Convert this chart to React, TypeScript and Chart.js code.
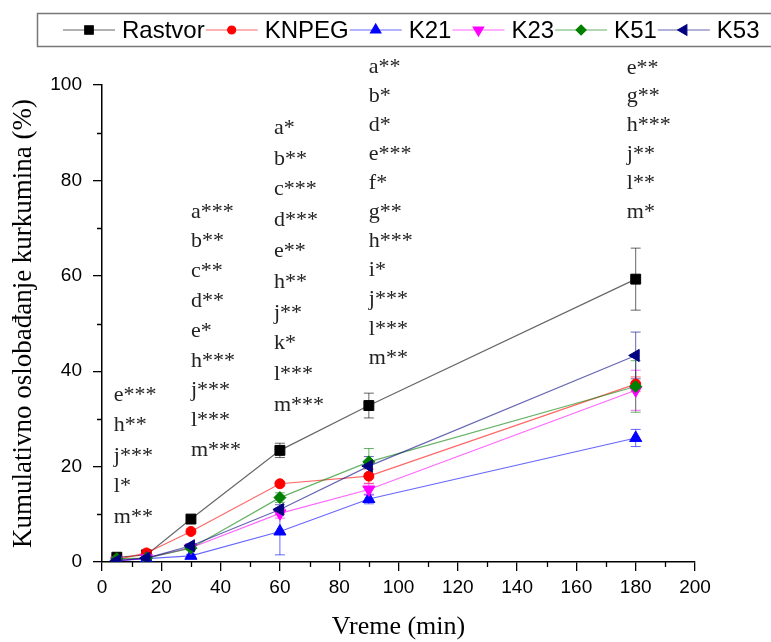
import React, { useEffect, useRef } from 'react';
import { Chart, registerables } from 'chart.js';
import { drawPoint } from 'chart.js/helpers';

Chart.register(...registerables);

// ---- data ----
const times = [5, 15, 30, 60, 90, 180];
const seriesNames = ['Rastvor', 'KNPEG', 'K21', 'K23', 'K51', 'K53'];

const rastvor = [1.0, 1.5, 9.0, 23.4, 32.8, 59.3];
const rastvorErr = [0.3, 0.3, 0.6, 1.5, 2.6, 6.5];
const knpeg = [0.5, 1.9, 6.4, 16.4, 18.0, 37.3];
const knpegErr = [0.2, 0.3, 0.5, 0.5, 1.5, 1.5];
const k21 = [0.3, 0.7, 1.3, 6.4, 13.2, 26.0];
const k21Err = [0.1, 0.2, 0.3, 4.9, 1.0, 1.8];
const k23 = [0.3, 0.8, 3.0, 10.2, 15.2, 36.0];
const k23Err = [0.1, 0.2, 0.4, 1.0, 1.2, 4.2];
const k51 = [0.7, 0.8, 2.9, 13.5, 21.0, 36.8];
const k51Err = [0.1, 0.2, 0.4, 1.0, 2.8, 5.4];
const k53 = [0.3, 0.8, 3.4, 11.0, 20.1, 43.3];
const k53Err = [0.1, 0.2, 0.4, 1.0, 2.0, 4.9];

const seriesValues = [rastvor, knpeg, k21, k23, k51, k53];
const seriesErrors = [rastvorErr, knpegErr, k21Err, k23Err, k51Err, k53Err];

// significance annotations at each time point
const annot5 = ['e***', 'h**', 'j***', 'l*', 'm**'];
const annot30 = ['a***', 'b**', 'c**', 'd**', 'e*', 'h***', 'j***', 'l***', 'm***'];
const annot60 = ['a*', 'b**', 'c***', 'd***', 'e**', 'h**', 'j**', 'k*', 'l***', 'm***'];
const annot90 = ['a**', 'b*', 'd*', 'e***', 'f*', 'g**', 'h***', 'i*', 'j***', 'l***', 'm**'];
const annot180 = ['e**', 'g**', 'h***', 'j**', 'l**', 'm*'];
const annotGroups = [annot5, annot30, annot60, annot90, annot180];

// ---- style / layout ----
const markerColors = ['#000000', '#ff0000', '#0000ff', '#ff00ff', '#008000', '#000080'];
const lineColors = ['rgba(0,0,0,0.6)', 'rgba(255,0,0,0.6)', 'rgba(0,0,255,0.6)', 'rgba(255,0,255,0.6)', 'rgba(0,128,0,0.6)', 'rgba(0,0,128,0.6)'];
const pointStyles = ['rect', 'circle', 'triangle', 'triangle', 'rectRot', 'triangle'];
const pointRotations = [0, 0, 0, 180, 0, 270];
const pointRadii = [7, 5, 7, 7, 6, 7];

const annotXData = [4, 30, 58, 90, 177];
const annotTopData = [35.0, 73.4, 91.0, 103.8, 103.6];
const annotSpacing = [30.5, 29.8, 30.8, 29.1, 28.8];

const SANS = '"Liberation Sans", Arial, sans-serif';
const SERIF = '"Liberation Serif", "Times New Roman", serif';

const errorBarPlugin = {
  id: 'errorBars',
  beforeDatasetsDraw(chart: any) {
    const { ctx } = chart;
    const xs = chart.scales.x;
    const ys = chart.scales.y;
    ctx.save();
    ctx.lineWidth = 1;
    seriesValues.forEach((vals, i) => {
      ctx.strokeStyle = lineColors[i];
      vals.forEach((v, j) => {
        const e = seriesErrors[i][j];
        const x = xs.getPixelForValue(times[j]);
        const yTop = ys.getPixelForValue(v + e);
        const yBot = ys.getPixelForValue(Math.max(0, v - e));
        ctx.beginPath();
        ctx.moveTo(x, yTop);
        ctx.lineTo(x, yBot);
        ctx.moveTo(x - 5, yTop);
        ctx.lineTo(x + 5, yTop);
        ctx.moveTo(x - 5, yBot);
        ctx.lineTo(x + 5, yBot);
        ctx.stroke();
      });
    });
    ctx.restore();
  },
};

const minorTickPlugin = {
  id: 'minorTicks',
  afterDraw(chart: any) {
    const { ctx, chartArea } = chart;
    const xs = chart.scales.x;
    const ys = chart.scales.y;
    ctx.save();
    ctx.strokeStyle = '#000';
    ctx.lineWidth = 1.3;
    ctx.beginPath();
    for (let v = 10; v < 200; v += 20) {
      const x = Math.round(xs.getPixelForValue(v)) + 0.5;
      ctx.moveTo(x, chartArea.bottom);
      ctx.lineTo(x, chartArea.bottom + 5);
    }
    for (let v = 10; v < 100; v += 20) {
      const y = Math.round(ys.getPixelForValue(v)) + 0.5;
      ctx.moveTo(chartArea.left, y);
      ctx.lineTo(chartArea.left - 5, y);
    }
    ctx.stroke();
    ctx.restore();
  },
};

const annotationPlugin = {
  id: 'annotations',
  afterDraw(chart: any) {
    const { ctx } = chart;
    const xs = chart.scales.x;
    const ys = chart.scales.y;
    ctx.save();
    ctx.font = `22px ${SERIF}`;
    ctx.fillStyle = '#222';
    ctx.textAlign = 'left';
    ctx.textBaseline = 'middle';
    annotGroups.forEach((lines, g) => {
      const x = xs.getPixelForValue(annotXData[g]);
      const y0 = ys.getPixelForValue(annotTopData[g]);
      lines.forEach((t, k) => {
        ctx.fillText(t, x, y0 + k * annotSpacing[g]);
      });
    });
    ctx.restore();
  },
};

const legendPlugin = {
  id: 'customLegend',
  afterDraw(chart: any) {
    const { ctx } = chart;
    ctx.save();
    ctx.strokeStyle = '#777';
    ctx.lineWidth = 1.5;
    ctx.strokeRect(37.5, 13.5, 800, 33);
    ctx.font = `24px ${SANS}`;
    ctx.textBaseline = 'middle';
    ctx.textAlign = 'left';
    const yc = 30;
    let x = 63;
    seriesNames.forEach((name, i) => {
      ctx.strokeStyle = lineColors[i];
      ctx.lineWidth = 1.2;
      ctx.beginPath();
      ctx.moveTo(x, yc);
      ctx.lineTo(x + 52, yc);
      ctx.stroke();
      ctx.fillStyle = markerColors[i];
      ctx.strokeStyle = markerColors[i];
      drawPoint(ctx, { pointStyle: pointStyles[i], rotation: pointRotations[i], radius: pointRadii[i] - 1, borderWidth: 1 } as any, x + 26, yc);
      ctx.fillStyle = '#000';
      ctx.fillText(name, x + 59, yc + 1);
      x = x + 59 + ctx.measureText(name).width + 1;
    });
    ctx.restore();
  },
};

export default function App() {
  const ref = useRef<HTMLCanvasElement>(null);
  useEffect(() => {
    document.body.style.margin = '0';
    const canvas = ref.current!;
    const chart = new Chart(canvas, {
      type: 'line',
      data: {
        datasets: seriesValues.map((vals, i) => ({
          label: seriesNames[i],
          data: times.map((t, j) => ({ x: t, y: vals[j] })),
          borderColor: lineColors[i],
          backgroundColor: markerColors[i],
          pointBackgroundColor: markerColors[i],
          pointBorderColor: markerColors[i],
          pointBorderWidth: 1,
          pointStyle: pointStyles[i] as any,
          pointRotation: pointRotations[i],
          pointRadius: pointRadii[i],
          borderWidth: 1.2,
          tension: 0,
          fill: false,
          order: seriesValues.length - i,
        })),
      },
      options: {
        responsive: false,
        animation: false,
        devicePixelRatio: 1,
        layout: { padding: { top: 85, right: 76, left: 0, bottom: 0 } },
        plugins: { legend: { display: false }, tooltip: { enabled: false } },
        scales: {
          x: {
            type: 'linear',
            min: 0,
            max: 200,
            ticks: { stepSize: 20, autoSkip: false, maxRotation: 0, color: '#000', padding: 5, font: { family: SANS, size: 19 } },
            grid: { display: true, drawOnChartArea: false, drawTicks: true, tickLength: 9, color: '#000', lineWidth: 1.3 },
            border: { display: true, color: '#000', width: 1.5 },
            title: { display: true, text: 'Vreme (min)', color: '#000', font: { family: SERIF, size: 26, lineHeight: 1 }, padding: { top: 0, bottom: 2 } },
            afterFit: (s: any) => { s.height = 80; },
          },
          y: {
            type: 'linear',
            min: 0,
            max: 100,
            ticks: { stepSize: 20, color: '#000', padding: 11, font: { family: SANS, size: 19 } },
            grid: { display: true, drawOnChartArea: false, drawTicks: true, tickLength: 9, color: '#000', lineWidth: 1.3 },
            border: { display: true, color: '#000', width: 1.5 },
            title: { display: true, text: 'Kumulativno oslobađanje kurkumina (%)', color: '#000', font: { family: SERIF, size: 27, lineHeight: 1 }, padding: { top: 10, bottom: 0 } },
            afterFit: (s: any) => { s.width = 102; },
          },
        },
      } as any,
      plugins: [errorBarPlugin, minorTickPlugin, annotationPlugin, legendPlugin],
    });
    return () => chart.destroy();
  }, []);
  return (
    <div style={{ width: 771, height: 642, background: '#fff' }}>
      <canvas ref={ref} width={771} height={642} style={{ display: 'block' }} />
    </div>
  );
}
